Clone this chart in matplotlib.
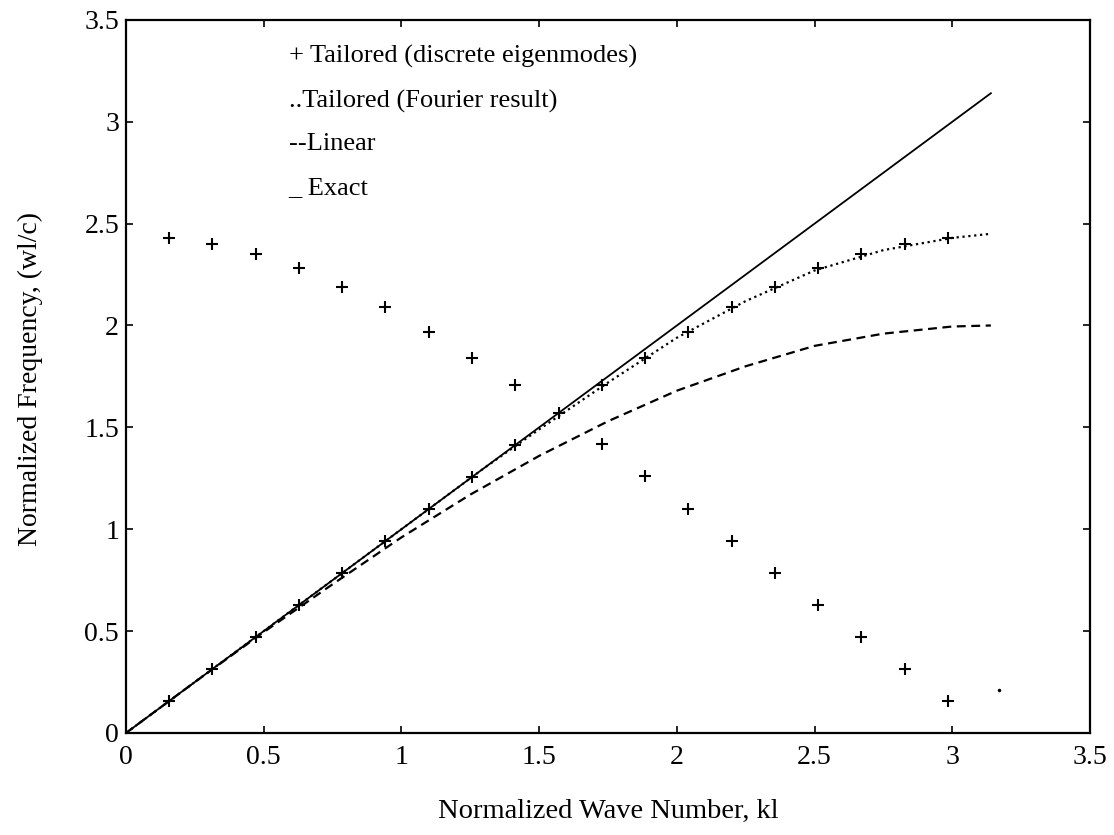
import matplotlib
matplotlib.use("Agg")
import matplotlib.pyplot as plt

plt.rcParams['font.family'] = ['Liberation Serif', 'DejaVu Serif']

# discrete eigenmode wave numbers and the two branches
k_modes = [0.157, 0.314, 0.471, 0.628, 0.785, 0.942, 1.100, 1.257, 1.414, 1.571,
           1.728, 1.885, 2.042, 2.199, 2.356, 2.513, 2.670, 2.827, 2.985]
w_lower = [0.157, 0.314, 0.471, 0.628, 0.785, 0.942, 1.100, 1.257, 1.414, 1.571,
           1.71, 1.84, 1.97, 2.09, 2.19, 2.28, 2.35, 2.40, 2.43]
k_upper = [0.157, 0.314, 0.471, 0.628, 0.785, 0.942, 1.100, 1.257, 1.414,
           1.728, 1.885, 2.042, 2.199, 2.356, 2.513, 2.670, 2.827, 2.985]
w_upper = [2.43, 2.40, 2.35, 2.28, 2.19, 2.09, 1.97, 1.84, 1.71,
           1.42, 1.26, 1.10, 0.94, 0.785, 0.628, 0.471, 0.314, 0.157]
k_stray = [3.17]
w_stray = [0.21]

# Fourier result (dotted)
k_fourier = [0.0, 0.5, 1.0, 1.3, 1.5, 1.75, 2.0, 2.25, 2.5, 2.75, 3.0, 3.14]
w_fourier = [0.0, 0.5, 1.0, 1.3, 1.49, 1.72, 1.94, 2.12, 2.27, 2.37, 2.43, 2.45]

# linear (dashed)
k_linear = [0.0, 0.25, 0.5, 0.75, 1.0, 1.25, 1.5, 1.75, 2.0, 2.25, 2.5, 2.75, 3.0, 3.14]
w_linear = [0.0, 0.25, 0.495, 0.73, 0.96, 1.17, 1.36, 1.53, 1.68, 1.80, 1.90, 1.96, 1.995, 2.0]

# exact (solid)
k_exact = [0.0, 3.14]
w_exact = [0.0, 3.14]

ticks = [0, 0.5, 1, 1.5, 2, 2.5, 3, 3.5]
tick_labels = ['0', '0.5', '1', '1.5', '2', '2.5', '3', '3.5']

legend_lines = ['+ Tailored (discrete eigenmodes)', '..Tailored (Fourier result)',
                '--Linear', '_ Exact']
legend_y = [3.32, 3.10, 2.89, 2.675]

fig = plt.figure(figsize=(11.14, 8.35), dpi=100)
ax = fig.add_axes([0.1131, 0.1222, 0.8654, 0.854])

ax.plot(k_exact, w_exact, '-', color='black', lw=1.3)
ax.plot(k_linear, w_linear, '--', color='black', lw=1.6, dashes=(4, 2.5))
ax.plot(k_fourier, w_fourier, ':', color='black', lw=1.6)
ax.plot(k_modes, w_lower, '+', color='black', ms=9, mew=1.5)
ax.plot(k_upper, w_upper, '+', color='black', ms=9, mew=1.5)
ax.plot(k_stray, w_stray, '.', color='black', ms=3)

ax.set_xlim(0, 3.5)
ax.set_ylim(0, 3.5)
ax.set_xticks(ticks)
ax.set_yticks(ticks)
ax.set_xticklabels(tick_labels)
ax.set_yticklabels(tick_labels)
ax.tick_params(direction='in', top=True, right=True, length=5, width=1.2,
               labelsize=20)
ax.tick_params(axis='x', pad=9)
ax.tick_params(axis='y', pad=5)
for s in ax.spines.values():
    s.set_linewidth(1.6)

ax.set_xlabel('Normalized Wave Number, kl', fontsize=20.5)
ax.set_ylabel('Normalized Frequency, (wl/c)', fontsize=20)
ax.xaxis.set_label_coords(0.5, -0.092)
ax.yaxis.set_label_coords(-0.086, 0.497)

for txt, y in zip(legend_lines, legend_y):
    ax.text(0.59, y, txt, fontsize=19, va='center', ha='left')

fig.savefig('out.png', dpi=100)
